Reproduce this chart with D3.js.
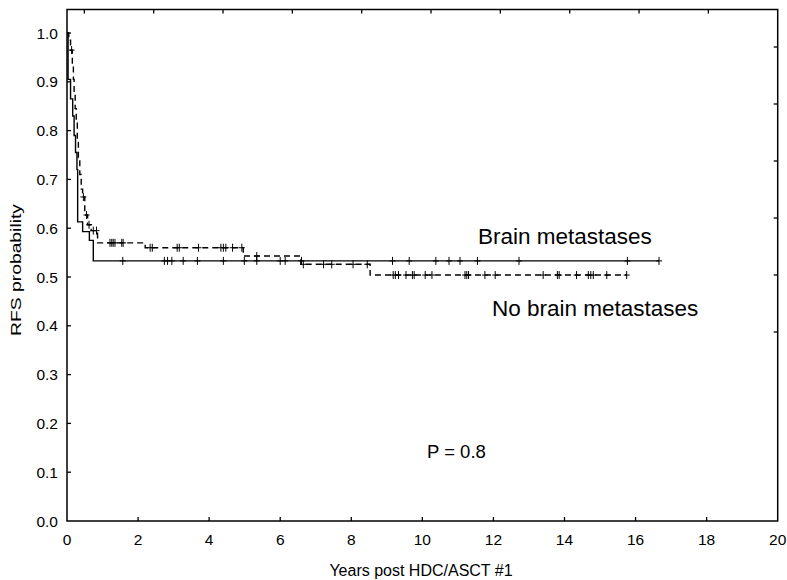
<!DOCTYPE html>
<html>
<head>
<meta charset="utf-8">
<script src="https://cdn.jsdelivr.net/npm/d3@7"></script>
<style>
  body { margin: 0; background: #fff; }
  svg { font-family: Arial, "Liberation Sans", sans-serif; }
</style>
</head>
<body>
<svg width="787" height="580"></svg>
<script>
// step functions: [time (years), survival after that time]
var brainSteps = [[0, 1.0], [0.03, 0.905], [0.1, 0.865], [0.16, 0.83], [0.2, 0.79], [0.24, 0.755], [0.28, 0.72], [0.3, 0.613], [0.44, 0.593], [0.63, 0.575], [0.74, 0.533]];
var brainEnd = 16.66;
var brainCensor = [1.57, 2.74, 2.83, 2.95, 3.27, 3.67, 4.4, 4.99, 5.34, 6.0, 6.14, 6.6, 9.16, 9.63, 10.38, 10.75, 11.06, 11.55, 12.72, 15.77, 16.66];

var noBrainSteps = [[0, 1.0], [0.05, 0.985], [0.1, 0.965], [0.15, 0.935], [0.18, 0.905], [0.2, 0.875], [0.23, 0.845], [0.26, 0.815], [0.29, 0.78], [0.32, 0.745], [0.36, 0.71], [0.4, 0.68], [0.44, 0.664], [0.5, 0.627], [0.58, 0.607], [0.68, 0.595], [0.86, 0.57], [2.2, 0.56], [4.96, 0.543], [6.58, 0.526], [8.53, 0.504]];
var noBrainEnd = 15.75;
var noBrainCensor = [0.13, 0.46, 0.55, 0.62, 0.74, 0.83, 1.21, 1.26, 1.3, 1.35, 1.54, 1.58, 2.34, 2.4, 3.1, 3.16, 3.7, 4.33, 4.4, 4.47, 4.66, 4.92, 5.34, 6.65, 7.22, 7.45, 8.05, 8.45, 9.18, 9.24, 9.33, 9.54, 9.72, 9.77, 10.08, 10.27, 11.2, 11.25, 11.3, 11.76, 12.05, 13.4, 13.8, 13.85, 14.34, 14.67, 14.74, 14.81, 15.19, 15.75];

var xTicks = [0, 2, 4, 6, 8, 10, 12, 14, 16, 18, 20];
var yTicks = [0, 0.1, 0.2, 0.3, 0.4, 0.5, 0.6, 0.7, 0.8, 0.9, 1.0];
var topTicks = [0, 1, 2, 3, 4, 5, 6, 7, 8, 9];
var rightTicks = [0, 1, 2, 3, 4, 5];

var svg = d3.select('svg');
var m = { left: 67, right: 777.7, bottom: 521, top: 9.5 };

var x = d3.scaleLinear().domain([0, 20]).range([m.left, m.right]);
var y = d3.scaleLinear().domain([0, 1]).range([m.bottom, 33]);
var xTop = d3.scaleLinear().domain([-0.25, 10]).range([m.left, m.right]);
var yRight = d3.scaleLinear().domain([0, 5]).range([332, 47]);

// frame
svg.append('rect')
  .attr('x', m.left).attr('y', m.top)
  .attr('width', m.right - m.left).attr('height', m.bottom - m.top)
  .attr('fill', 'none').attr('stroke', '#000').attr('stroke-width', 1.5);

// ticks
var ticks = svg.append('g').attr('stroke', '#000').attr('stroke-width', 1.3);
ticks.selectAll('.xt').data(xTicks.slice(1, -1)).enter().append('line')
  .attr('x1', d => x(d)).attr('x2', d => x(d)).attr('y1', m.bottom).attr('y2', m.bottom - 4);
ticks.selectAll('.yt').data(yTicks.slice(1)).enter().append('line')
  .attr('x1', m.left).attr('x2', m.left + 4).attr('y1', d => y(d)).attr('y2', d => y(d));
ticks.selectAll('.tt').data(topTicks).enter().append('line')
  .attr('x1', d => xTop(d)).attr('x2', d => xTop(d)).attr('y1', m.top).attr('y2', m.top + 4);
ticks.selectAll('.rt').data(rightTicks).enter().append('line')
  .attr('x1', m.right).attr('x2', m.right - 4).attr('y1', d => yRight(d)).attr('y2', d => yRight(d));

// tick labels
svg.append('g').selectAll('text').data(xTicks).enter().append('text')
  .attr('x', d => x(d)).attr('y', 545)
  .attr('text-anchor', 'middle').attr('font-size', 15.5)
  .text(d => d);
svg.append('g').selectAll('text').data(yTicks).enter().append('text')
  .attr('x', 58).attr('y', d => y(d)).attr('dy', '0.36em')
  .attr('text-anchor', 'end').attr('font-size', 15.5)
  .text(d3.format('.1f'));

// axis titles
svg.append('text').attr('x', 421).attr('y', 576)
  .attr('text-anchor', 'middle').attr('font-size', 16)
  .text('Years post HDC/ASCT #1');
svg.append('text').attr('transform', 'translate(21,270) rotate(-90)')
  .attr('text-anchor', 'middle').attr('font-size', 14.5)
  .attr('textLength', 132).attr('lengthAdjust', 'spacingAndGlyphs')
  .text('RFS probability');

function stepPath(steps, end) {
  var pts = steps.concat([[end, steps[steps.length - 1][1]]]);
  return d3.line().x(d => x(d[0])).y(d => y(d[1])).curve(d3.curveStepAfter)(pts);
}
var bis = d3.bisector(d => d[0]).right;
function survAt(steps, t) {
  return steps[Math.max(0, bis(steps, t) - 1)][1];
}

function drawCurve(steps, end, censor, dash) {
  var g = svg.append('g');
  g.append('path')
    .attr('d', stepPath(steps, end))
    .attr('fill', 'none').attr('stroke', '#000').attr('stroke-width', 1.4)
    .attr('stroke-dasharray', dash);
  var c = g.selectAll('g.c').data(censor).enter().append('g')
    .attr('transform', d => 'translate(' + x(d) + ',' + y(survAt(steps, d)) + ')')
    .attr('stroke', '#000').attr('stroke-width', 1);
  c.append('line').attr('x1', 0).attr('x2', 0).attr('y1', -4).attr('y2', 4);
  c.append('line').attr('x1', -3).attr('x2', 3).attr('y1', 0).attr('y2', 0);
}

drawCurve(brainSteps, brainEnd, brainCensor, null);
drawCurve(noBrainSteps, noBrainEnd, noBrainCensor, '6,4');

// labels
svg.append('text').attr('x', 478).attr('y', 244).attr('font-size', 22.5).text('Brain metastases');
svg.append('text').attr('x', 492).attr('y', 316).attr('font-size', 22.5).text('No brain metastases');
svg.append('text').attr('x', 427).attr('y', 458).attr('font-size', 18.5).text('P = 0.8');
</script>
</body>
</html>
